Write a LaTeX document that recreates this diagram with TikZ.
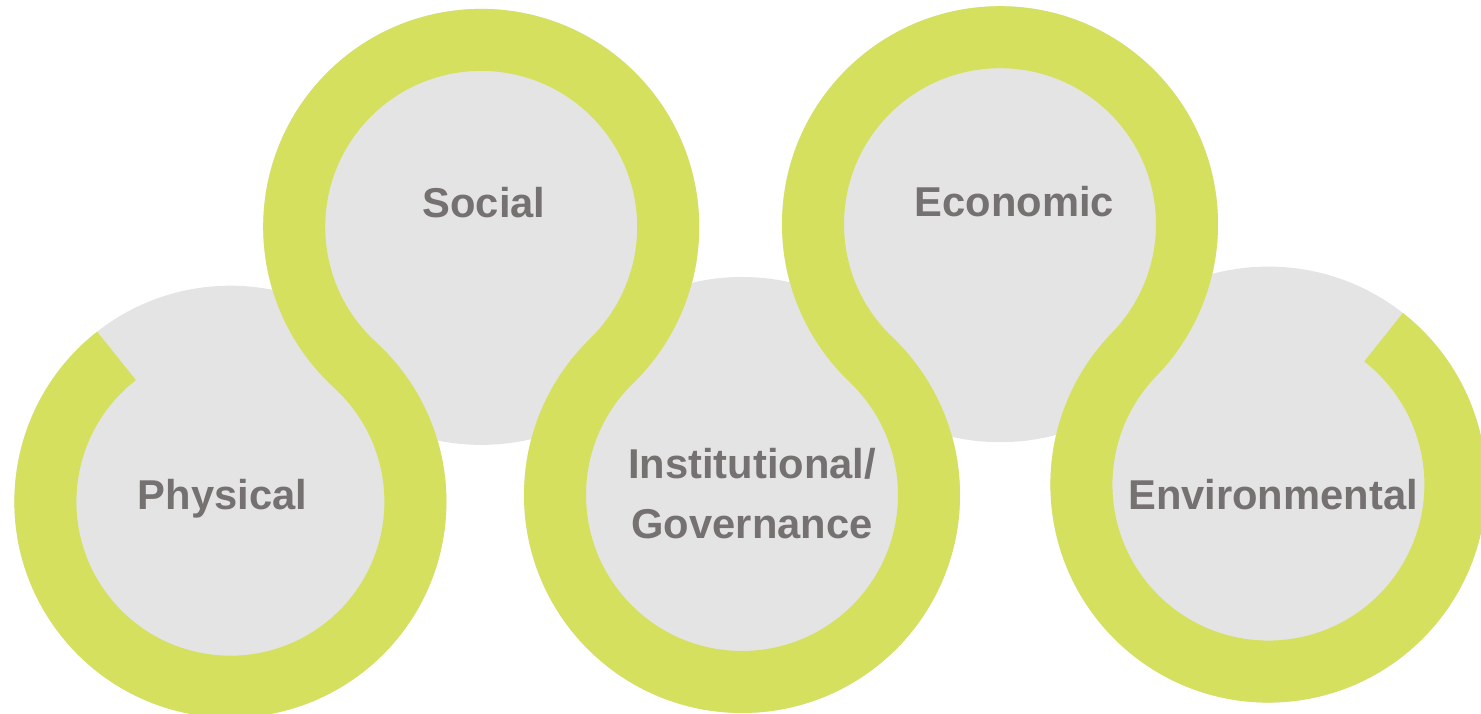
\documentclass[tikz,border=0pt]{standalone}
\usepackage{fontspec}
\setmainfont{Liberation Sans}
\definecolor{ringc}{RGB}{213,224,94}
\definecolor{diskc}{RGB}{228,228,228}
\definecolor{textc}{RGB}{118,113,113}
\begin{document}
\begin{tikzpicture}[x=1pt,y=1pt,
  disk/.style={circle,fill=diskc,draw=none,minimum size=436pt,inner sep=0pt},
  ring/.style={draw=ringc,line width=62pt,line cap=butt},
  lbl/.style={text=textc,font=\fontsize{41.7}{60}\selectfont\bfseries,inner sep=0pt,align=center}]
\useasboundingbox (0,0) rectangle (1481,714);
\clip (0,0) rectangle (1481,714);
% grey disks
\node[disk,minimum size=432pt] (phys) at (230.4,212.3) {};
\node[disk] (soc)  at (481.2,487.1) {};
\node[disk] (inst) at (742,219) {};
\node[disk] (eco)  at (1000,489.8) {};
\node[disk] (env)  at (1268.4,229.4) {};
% band through the five circles (arcs meet tangentially)
\draw[ring]
  (phys.center) ++(128:185pt)    arc[start angle=128,end angle=407.91,radius=185pt]
  (soc.center)  ++(227.91:187pt) arc[start angle=227.91,end angle=-46.09,radius=187pt]
  (inst.center) ++(134.51:187pt) arc[start angle=134.51,end angle=406.71,radius=187pt]
  (eco.center)  ++(226.71:187pt) arc[start angle=226.71,end angle=-44.43,radius=187pt]
  (env.center)  ++(136.17:187pt) arc[start angle=136.17,end angle=412,radius=187pt];
% labels
\node[lbl,anchor=base] (physT) at (222.5,204) {Physical};
\node[lbl,anchor=base] (socT)  at (484,496) {Social};
\node[lbl] (instT) at (752,220) {Institutional/\\Governance};
\node[lbl,anchor=base] (ecoT)  at (1014.5,497) {Economic};
\node[lbl,anchor=base] (envT)  at (1273,204) {Environmental};
\end{tikzpicture}
\end{document}
